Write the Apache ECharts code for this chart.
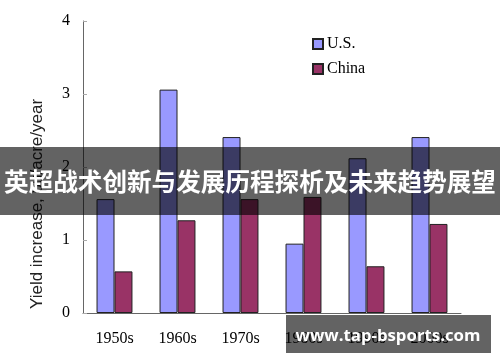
<!DOCTYPE html>
<html><head><meta charset="utf-8">
<script src="https://cdn.jsdelivr.net/npm/echarts@6/dist/echarts.min.js"></script>
<style>html,body{margin:0;padding:0;background:#fff}#c{width:500px;height:362px}</style>
</head><body><div id="c"></div>
<script>
const categories = ['1950s','1960s','1970s','1980s','1990s','2000s'];
const usValues = [1.56, 3.06, 2.41, 0.95, 2.12, 2.41];
const chinaValues = [0.57, 1.27, 1.56, 1.59, 0.64, 1.22];
const yTicks = [0, 1, 2, 3, 4];
const yTitle = 'Yield increase, bu/acre/year';
const bannerText = '英超战术创新与发展历程探析及未来趋势展望';
const watermarkText = 'www.tap-bsports.com';

const chart = echarts.init(document.getElementById('c'), null, {renderer:'canvas'});
const serif = '"Liberation Serif", "Times New Roman", serif';
chart.setOption({
  animation: false,
  grid: {left: 83, right: 39, top: 21, bottom: 49},
  legend: {
    orient: 'vertical', left: 307, top: 31, itemWidth: 10, itemHeight: 10, itemGap: 9,
    icon: 'rect', padding: 5,
    textStyle: {fontFamily: serif, fontSize: 16, lineHeight: 16, color: '#000', padding: [0,0,0,-1]},
    data: ['U.S.', 'China']
  },
  xAxis: {
    type: 'category', data: categories,
    axisLine: {lineStyle: {color: '#666', width: 1}},
    axisTick: {inside: true, length: 5, lineStyle: {color: '#aaa'}},
    axisLabel: {fontFamily: serif, fontSize: 16, color: '#000', margin: 18}
  },
  yAxis: {
    type: 'value', min: yTicks[0], max: yTicks[yTicks.length-1], interval: 1,
    splitLine: {show: false},
    axisLine: {show: true, lineStyle: {color: '#666', width: 1}},
    axisTick: {show: true, inside: true, length: 4, lineStyle: {color: '#aaa'}},
    axisLabel: {fontFamily: serif, fontSize: 16, color: '#000', margin: 13}
  },
  series: [
    {name: 'U.S.', type: 'bar', data: usValues, barGap: '0%', barCategoryGap: '43%',
     itemStyle: {color: '#9999ff', borderColor: '#222', borderWidth: 1}},
    {name: 'China', type: 'bar', data: chinaValues,
     itemStyle: {color: '#993366', borderColor: '#222', borderWidth: 1}}
  ],
  graphic: [
    {type: 'text', x: 37, y: 204, rotation: Math.PI/2,
     style: {text: yTitle, font: '17px "Liberation Sans", Arial, sans-serif', fill: '#222',
             textAlign: 'center', textVerticalAlign: 'middle'}},
    {type: 'rect', shape: {x: 0, y: 147, width: 500, height: 68},
     style: {fill: 'rgba(0,0,0,0.612)'}, z: 100},
    {type: 'text', x: 250, y: 182, z: 101,
     style: {text: bannerText, font: 'bold 24.6px "Noto Sans CJK SC", sans-serif', fill: '#fff',
             textAlign: 'center', textVerticalAlign: 'middle'}},
    {type: 'rect', shape: {x: 286, y: 315, width: 205, height: 38},
     style: {fill: 'rgba(0,0,0,0.612)'}, z: 100},
    {type: 'text', x: 388, y: 336, z: 101,
     style: {text: watermarkText, font: 'bold 16.8px "Open Sans", sans-serif', fill: '#fff',
             textAlign: 'center', textVerticalAlign: 'middle'}}
  ]
});
</script></body></html>
